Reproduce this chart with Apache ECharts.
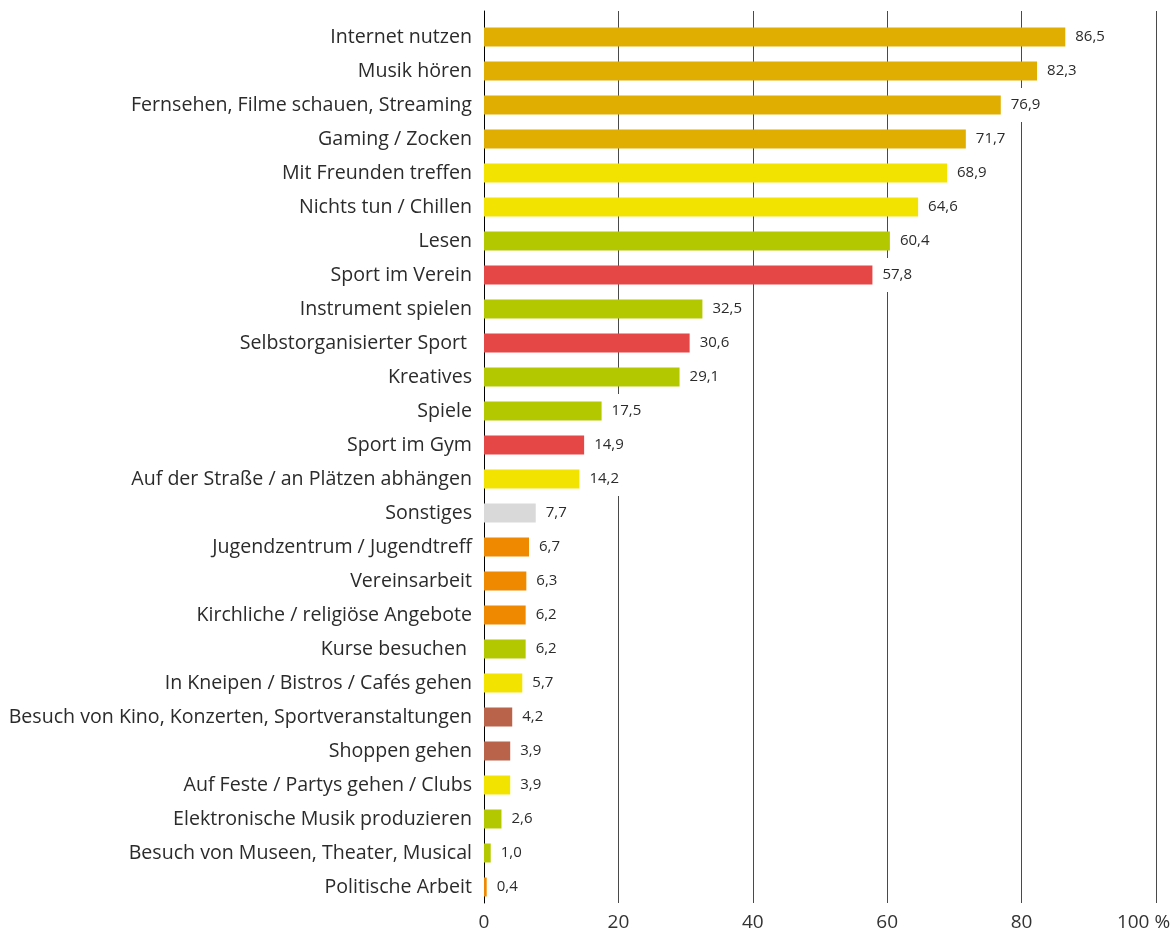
<!DOCTYPE html>
<html>
<head>
<meta charset="utf-8">
<script src="https://cdn.jsdelivr.net/npm/echarts@6/dist/echarts.min.js"></script>
<style>
  html, body { margin: 0; padding: 0; background: #fff; }
  #chart { width: 1176px; height: 934px; }
</style>
</head>
<body>
<div id="chart"></div>
<script>
// Freizeitaktivitäten (Angaben in %)
const categories = [
  'Internet nutzen',
  'Musik hören',
  'Fernsehen, Filme schauen, Streaming',
  'Gaming / Zocken',
  'Mit Freunden treffen',
  'Nichts tun / Chillen',
  'Lesen',
  'Sport im Verein',
  'Instrument spielen',
  'Selbstorganisierter Sport ',
  'Kreatives',
  'Spiele',
  'Sport im Gym',
  'Auf der Straße / an Plätzen abhängen',
  'Sonstiges',
  'Jugendzentrum / Jugendtreff',
  'Vereinsarbeit',
  'Kirchliche / religiöse Angebote',
  'Kurse besuchen ',
  'In Kneipen / Bistros / Cafés gehen',
  'Besuch von Kino, Konzerten, Sportveranstaltungen',
  'Shoppen gehen',
  'Auf Feste / Partys gehen / Clubs',
  'Elektronische Musik produzieren',
  'Besuch von Museen, Theater, Musical',
  'Politische Arbeit'
];

const values = [
  86.5, 82.3, 76.9, 71.7, 68.9, 64.6, 60.4, 57.8, 32.5, 30.6, 29.1, 17.5, 14.9,
  14.2, 7.7, 6.7, 6.3, 6.2, 6.2, 5.7, 4.2, 3.9, 3.9, 2.6, 1.0, 0.4
];

// Gruppe je Aktivität
const groups = [
  'medien', 'medien', 'medien', 'medien',
  'freunde', 'freunde',
  'kultur', 'sport', 'kultur', 'sport', 'kultur', 'kultur', 'sport',
  'freunde', 'sonstiges',
  'angebote', 'angebote', 'angebote',
  'kultur', 'freunde', 'konsum', 'konsum', 'freunde',
  'kultur', 'kultur', 'angebote'
];

const xTicks = [0, 20, 40, 60, 80, 100];

const groupColors = {
  medien: '#E0AE00',
  freunde: '#F2E400',
  kultur: '#B4C800',
  sport: '#E54646',
  sonstiges: '#D9D9D9',
  angebote: '#EF8A00',
  konsum: '#B9634B'
};

const fontFamily = '"Open Sans", "Noto Sans", sans-serif';
const fmt = v => v.toFixed(1).replace('.', ',');

const chart = echarts.init(document.getElementById('chart'), null, { renderer: 'canvas' });

chart.setOption({
  animation: false,
  backgroundColor: '#ffffff',
  textStyle: { fontFamily },
  grid: [
    // Achsen und Gitterlinien
    { left: 484, right: 20, top: 11, bottom: 31 },
    // Balken
    { left: 484, right: 20, top: 20, bottom: 30 }
  ],
  xAxis: [
    {
      gridIndex: 0,
      type: 'value',
      min: xTicks[0],
      max: xTicks[xTicks.length - 1],
      interval: xTicks[1] - xTicks[0],
      axisLine: { show: false },
      axisTick: { show: false },
      splitLine: { show: true, lineStyle: { color: '#4a4a4a', width: 1 } },
      axisLabel: {
        margin: 10,
        fontSize: 19,
        color: '#333',
        fontFamily,
        formatter: v => (v === 100 ? '{last|100 %}' : String(v)),
        rich: {
          last: { fontSize: 19, color: '#333', fontFamily, padding: [0, 25, 0, 0] }
        }
      }
    },
    {
      gridIndex: 1,
      type: 'value',
      min: xTicks[0],
      max: xTicks[xTicks.length - 1],
      show: false
    }
  ],
  yAxis: [
    {
      gridIndex: 0,
      type: 'value',
      axisLine: { show: true, lineStyle: { color: '#000', width: 1 } },
      axisTick: { show: false },
      axisLabel: { show: false },
      splitLine: { show: false }
    },
    {
      gridIndex: 1,
      type: 'category',
      inverse: true,
      data: categories,
      axisLine: { show: false },
      axisTick: { show: false },
      splitLine: { show: false },
      axisLabel: {
        margin: 12,
        fontSize: 19.6,
        color: '#2b2b2b',
        fontFamily
      }
    }
  ],
  series: [
    {
      type: 'bar',
      xAxisIndex: 1,
      yAxisIndex: 1,
      barWidth: 19,
      data: values.map((v, i) => ({
        value: v,
        itemStyle: { color: groupColors[groups[i]] }
      })),
      label: {
        show: true,
        position: 'right',
        distance: 4,
        formatter: p => fmt(p.value),
        fontSize: 15,
        color: '#2b2b2b',
        fontFamily,
        backgroundColor: '#ffffff',
        lineHeight: 18,
        padding: [8, 6, 8, 6]
      }
    }
  ]
});
</script>
</body>
</html>
